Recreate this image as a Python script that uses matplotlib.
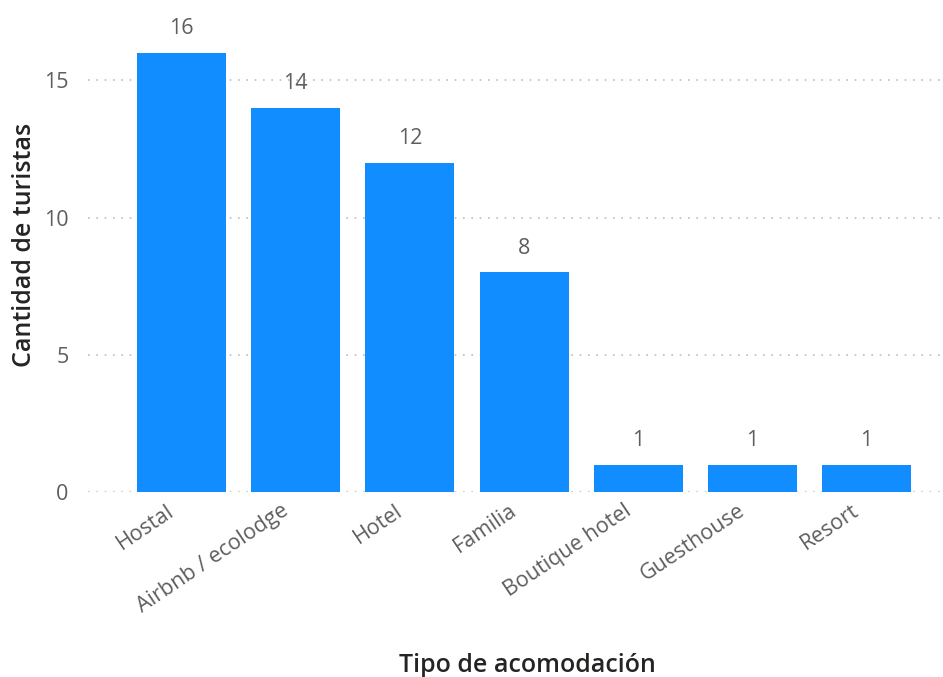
import matplotlib
matplotlib.use("Agg")
import matplotlib.pyplot as plt
from matplotlib.transforms import ScaledTranslation

# datos
categorias = ["Hostal", "Airbnb / ecolodge", "Hotel", "Familia",
              "Boutique hotel", "Guesthouse", "Resort"]
turistas = [16, 14, 12, 8, 1, 1, 1]
y_ticks = [0, 5, 10, 15]

BAR_COLOR = "#118DFF"
GRAY = "#605E5C"

plt.rcParams['font.family'] = ['Open Sans', 'DejaVu Sans']

fig = plt.figure(figsize=(9.43, 6.77), dpi=100)
W, H = 943, 677
# plot area in pixels: left 88, right 943, top 20, bottom 492
ax = fig.add_axes([88 / W, 1 - 492 / H, (943 - 88) / W, (492 - 20) / H])

x = list(range(len(categorias)))
bars = ax.bar(x, turistas, width=0.78, color=BAR_COLOR, zorder=3)

for b, v in zip(bars, turistas):
    ax.text(b.get_x() + b.get_width() / 2, v + 0.5, str(v),
            ha='center', va='bottom', fontsize=15.5, color=GRAY)

ax.set_xlim(-0.82, 6.67)
ax.set_ylim(0, 17.2)
ax.set_yticks(y_ticks)
ax.set_yticklabels([str(t) for t in y_ticks], fontsize=15.5, color=GRAY)
ax.yaxis.grid(True, linestyle=(0, (1, 4)), color="#BDBDBD", linewidth=1.2)
ax.set_axisbelow(True)

ax.tick_params(axis='both', length=0)
ax.tick_params(axis='y', pad=14)
ax.tick_params(axis='x', pad=6)

ax.set_xticks(x)
ax.set_xticklabels(categorias, rotation=34, ha='right', va='top',
                   rotation_mode='anchor', fontsize=15.5, color=GRAY)
# mover las etiquetas un poco a la izquierda (despues de tick_params)
shift = ScaledTranslation(-15 / 100, 0, fig.dpi_scale_trans)
for lbl in ax.get_xticklabels():
    lbl.set_transform(lbl.get_transform() + shift)

for s in ax.spines.values():
    s.set_visible(False)

# titulos de ejes
fig.text(25 / W, 1 - 245 / H, "Cantidad de turistas", rotation=90,
         ha='center', va='center', fontsize=18, color="#252423",
         fontweight='semibold')
fig.text(527 / W, 1 - 665 / H, "Tipo de acomodación", ha='center', va='center',
         fontsize=18, color="#252423", fontweight='semibold')

fig.savefig("out.png", dpi=100)
